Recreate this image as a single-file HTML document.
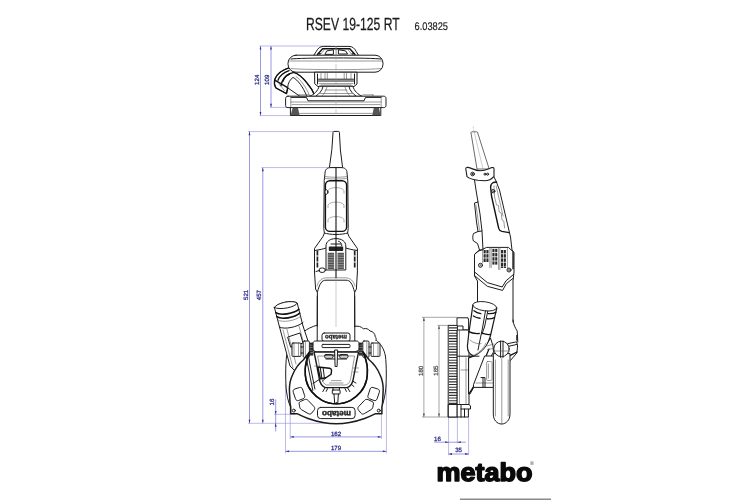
<!DOCTYPE html>
<html lang="en">
<head>
<meta charset="utf-8">
<title>RSEV 19-125 RT 6.03825</title>
<style>
html,body{margin:0;padding:0;background:#fff;}
body{width:750px;height:500px;overflow:hidden;position:relative;font-family:"Liberation Sans",sans-serif;}
svg{position:absolute;left:0;top:0;display:block;will-change:transform;}
svg text{text-rendering:geometricPrecision;}
.o{fill:none;stroke:#1c1c1c;stroke-width:1;stroke-linejoin:round;stroke-linecap:round;}
.ow{fill:#fff;stroke:#1c1c1c;stroke-width:1;stroke-linejoin:round;stroke-linecap:round;}
.k{fill:none;stroke:#111;stroke-width:1.4;stroke-linejoin:round;stroke-linecap:round;}
.t{fill:none;stroke:#555;stroke-width:0.6;stroke-linejoin:round;stroke-linecap:round;}
.tw{fill:#fff;stroke:#555;stroke-width:0.6;stroke-linejoin:round;}
.g{fill:none;stroke:#999;stroke-width:0.5;}
.d{fill:none;stroke:#5555cc;stroke-width:0.6;}
.dl{fill:none;stroke:#8c8ce0;stroke-width:0.6;}
.a{fill:#2a2a9a;stroke:none;}
.dt{stroke:#33338c;stroke-width:0.3;fill:#33338c;font-family:"Liberation Sans",sans-serif;font-size:6.1px;text-anchor:middle;}
.dtg{stroke:#555;stroke-width:0.3;fill:#555;font-family:"Liberation Sans",sans-serif;font-size:6.1px;text-anchor:middle;}
.dg{fill:none;stroke:#6a6a6a;stroke-width:0.6;}
.ag{fill:#444;stroke:none;}
.f{fill:#222;stroke:none;}
.fg{fill:#777;stroke:none;}
</style>
</head>
<body>
<svg width="750" height="500" viewBox="0 0 750 500">
<rect x="0" y="0" width="750" height="500" fill="#ffffff"/>

<!-- TITLE -->
<g id="title">
<text x="306" y="30" font-family="Liberation Sans, sans-serif" font-size="17.6" fill="#1a1a1a" stroke="#1a1a1a" stroke-width="0.250" textLength="93.600" lengthAdjust="spacingAndGlyphs">RSEV 19-125 RT</text>
<text x="414.5" y="30.2" font-family="Liberation Sans, sans-serif" font-size="11" fill="#1a1a1a" stroke="#1a1a1a" stroke-width="0.150" textLength="33.500" lengthAdjust="spacingAndGlyphs">6.03825</text>
</g>

<!-- LOGO -->
<g id="logo">
<text x="436.400" y="480.700" font-family="Liberation Sans, sans-serif" font-weight="bold" font-size="25.600" fill="#0a0a0a" stroke="#0a0a0a" stroke-width="1.500" stroke-linejoin="round" textLength="96" lengthAdjust="spacingAndGlyphs">metabo</text>
<text x="530" y="465" font-family="Liberation Sans, sans-serif" font-size="5.500" fill="#444">®</text>
<rect x="460" y="498.500" width="91" height="1.500" fill="#8a8a8a"/>
</g>

<g id="dims-top">
<path class="d" d="M260.5 46.0 L260.5 115.6"/>
<polygon class="a" points="260.5,46.0 259.6,49.6 261.4,49.6"/>
<polygon class="a" points="260.5,115.6 259.6,112.0 261.4,112.0"/>
<path class="d" d="M271.0 46.0 L271.0 107.4"/>
<polygon class="a" points="271.0,46.0 270.1,49.6 271.9,49.6"/>
<polygon class="a" points="271.0,107.4 270.1,103.8 271.9,103.8"/>
<path class="dl" d="M259.5 46.0 L331.0 46.0"/>
<path class="dl" d="M270.0 107.4 L287.0 107.4"/>
<path class="dl" d="M259.5 115.6 L291.0 115.6"/>
<text class="dt" transform="translate(259.0 79.8) rotate(-90)">124</text>
<text class="dt" transform="translate(269.2 79.8) rotate(-90)">109</text>
</g>

<g id="topview">
<!-- hose elbow -->
<path class="ow" d="M289 67.800 C282 70 276.500 74.500 275 79 C274 82 274.400 85.500 276 88 L286.500 93.600 L288 88 L300 96.400 L315 96.400 C313 91 310.500 87 307 83 C303 78 299 74 294 72.400 Z"/>
<path class="k" d="M289 67.800 C282 70 276.500 74.500 275 79 C274 82 274.400 85.500 276 88 L286.500 93.600 L287.600 87.600 L275.600 80.600"/>
<path class="k" d="M289 70.600 C284 72.400 279.500 76 278 80.200 M281 85.600 C281.400 81 285 76 289.500 74"/>
<path class="k" d="M283 81 C284 77 288 73.600 294 72.400 C299 74 303 78 307 83 C310.500 87 313 91 315 96"/>
<path class="o" d="M287.600 87.600 C288 83 290 79.500 293 77.400 C298 80 303 87 306.500 95.500"/>
<path class="t" d="M296 76.500 C301 80 306 87 309.500 95.500 M279 84 L284.500 90.600"/>
<!-- top cap -->
<path class="ow" d="M313.600 55.500 L316.200 51.600 C318 48.200 320 46.400 323.500 46.400 L349 46.400 C352.500 46.400 354.500 48.200 356.300 51.600 L358.600 55.500 Z"/>
<path class="k" d="M317.400 54.400 L322.600 48.800 L349.800 48.800 L355 54.400"/>
<path class="o" d="M325 54 L326.800 50.900 L333.400 49.800 L333.400 54 Z M338.800 49.800 L345.600 50.900 L347.600 54 L338.800 54 Z"/>
<path class="t" d="M320.500 54.500 L324.500 49.500 M351.800 54.500 L347.800 49.500 M336.100 46.600 L336.100 55"/>
<circle class="o" cx="319.200" cy="53.600" r="0.800"/><circle class="o" cx="353" cy="53.600" r="0.800"/>
<!-- wide body -->
<rect class="ow" x="288" y="55.2" width="95" height="17" rx="8" ry="8"/>
<path class="o" d="M291 59 C300 57.6 372 57.6 381 59"/>
<path class="t" d="M291 68.5 C300 70 372 70 381 68.5 M289.5 61 L382 61"/>
<!-- neck -->
<path class="ow" d="M315 72.2 L357 72.2 L357 84 L354 86.5 L318 86.5 L315 84 Z"/>
<path class="o" d="M317.500 74 L317.500 84 M354.500 74 L354.500 84 M318.500 79.200 L353.500 79.200 M318.500 81 L353.500 81"/>
<path class="t" d="M319 83.600 L353 83.600 M321 85 L351 85"/>
<path class="t" d="M321 72.500 L321 79 M351 72.500 L351 79 M325 72.500 L325 79 M327.300 72.500 L327.300 79 M344.200 72.500 L344.200 79 M346.500 72.500 L346.500 79"/>
<!-- flare -->
<path class="ow" d="M319 86.5 C318 91 314 94.5 309.5 96.4 L362.5 96.4 C358 94.5 354 91 353 86.5 Z"/>
<path class="o" d="M323 86.8 C322 91 319 94 316 96 M349 86.8 C350 91 353 94 356 96"/>
<path class="t" d="M327 87 C326 91 324 94 322 96 M345 87 C346 91 348 94 350 96 M325 90 L347 90 M320 93.5 L352 93.5"/>
<!-- base plate -->
<path class="ow" d="M288 96.200 L383.600 96.200 C385.200 96.200 386 97 386 98.500 L386 105.400 C386 106.800 385.200 107.600 383.600 107.600 L288 107.600 C286.400 107.600 285.600 106.800 285.600 105.400 L285.600 98.500 C285.600 97 286.400 96.200 288 96.200 Z"/>
<path class="o" d="M291 97.400 L306.500 97.400 L308 100.800 L364 100.800 L365.500 97.400 L381 97.400"/>
<path class="t" d="M290.800 97.400 L290.800 107.400 M381.200 97.400 L381.200 107.400 M291 102 L381 102 M292 104.600 L380 104.600 M299 94.800 L309 94.800 M363 94.800 L373 94.800 M299 94.800 L299 96.200 M373 94.800 L373 96.200"/>
<!-- bottom disc -->
<path class="o" d="M290.400 107.600 L290.400 115.500 L380.800 115.500 L380.800 107.600"/>
<path fill="#555" d="M292.600 108 L298 108 L299.600 115.200 L290.600 115.200 Z M373.800 108 L379 108 L380.600 115.200 L372.200 115.200 Z"/>
<path class="t" d="M299.600 113.400 L372.200 113.400"/>
<path class="g" d="M336 46 L336 116" stroke-dasharray="5 1.5 1 1.5"/>
</g>

<g id="dims-front">
<path class="d" d="M249.5 131.6 L249.5 423.3"/>
<polygon class="a" points="249.5,131.6 248.6,135.2 250.4,135.2"/>
<polygon class="a" points="249.5,423.3 248.6,419.7 250.4,419.7"/>
<path class="d" d="M262.8 167.6 L262.8 423.3"/>
<polygon class="a" points="262.8,167.6 261.9,171.2 263.7,171.2"/>
<polygon class="a" points="262.8,423.3 261.9,419.7 263.7,419.7"/>
<path class="dl" d="M248.0 131.6 L333.0 131.6"/>
<path class="dl" d="M261.5 167.6 L329.0 167.6"/>
<path class="dl" d="M248.0 423.3 L327.0 423.3"/>
<path class="dl" d="M274.0 414.3 L295.0 414.3"/>
<text class="dt" transform="translate(247.7 294.9) rotate(-90)">521</text>
<text class="dt" transform="translate(261.2 295.1) rotate(-90)">457</text>
<path class="d" d="M275.7 399.5 L275.7 431.5"/>
<polygon class="a" points="275.7,414.3 274.8,410.9 276.6,410.9"/>
<polygon class="a" points="275.7,423.3 274.8,426.7 276.6,426.7"/>
<text class="dt" transform="translate(274.0 402.0) rotate(-90)">16</text>
<path class="d" d="M290.2 436.9 L381.4 436.9"/>
<polygon class="a" points="290.2,436.9 293.8,436.0 293.8,437.8"/>
<polygon class="a" points="381.4,436.9 377.8,436.0 377.8,437.8"/>
<text class="dt" x="336.0" y="435.8">162</text>
<path class="d" d="M285.5 451.3 L386.4 451.3"/>
<polygon class="a" points="285.5,451.3 289.1,450.4 289.1,452.2"/>
<polygon class="a" points="386.4,451.3 382.8,450.4 382.8,452.2"/>
<text class="dt" x="336.0" y="449.8">179</text>
<path class="dl" d="M290.2 407.0 L290.2 439.0"/>
<path class="dl" d="M381.4 407.0 L381.4 439.0"/>
<path class="dl" d="M285.5 384.0 L285.5 453.5"/>
<path class="dl" d="M386.4 384.0 L386.4 453.5"/>
</g>

<g id="frontview">
<!-- cable sleeve -->
<path class="ow" d="M333 132.4 C333 131.6 333.4 131.4 334 131.4 L338.4 131.4 C339 131.4 339.4 131.6 339.4 132.4 L340.4 150 L342.6 167.6 L329.4 167.6 L331.8 150 Z"/>
<!-- handle -->
<path class="ow" d="M325 173 C325 169 327.5 167.6 331 167.6 L341 167.6 C344.500 167.6 347 169 347 173 L347.8 181 L348.2 226 C348.2 230 347.8 232 347.6 233 L349 236.500 L357.400 248.5 L357.400 272 L356.400 289 L354.600 292.500 L354.800 346 L317.200 346 L317.400 292.500 L315.600 289 L314.500 272 L314.500 248.5 L323 236.500 L324.400 233 C324.200 232 323.800 230 323.800 226 L324.200 181 Z"/>
<path class="t" d="M324.6 176.400 C330 177.600 342 177.600 347.4 176.400 M324.400 178.200 C330 179.400 342 179.400 347.6 178.200"/>
<rect class="k" x="325.400" y="180.800" width="21.200" height="50.600" rx="4.500" ry="4.500"/>
<path class="g" style="stroke:#8a8a8a;stroke-width:0.7" d="M328 193.500 L328 190.500 C329.500 188.200 333 187.600 336 187.600 C339 187.600 342.500 188.200 344 190.500 L344 193.500 M328 208 L328 205 C329.500 202.700 333 202.100 336 202.100 C339 202.100 342.500 202.700 344 205 L344 208 M328 222.500 L328 219.500 C329.500 217.200 333 216.600 336 216.600 C339 216.600 342.500 217.200 344 219.500 L344 222.500"/>
<ellipse class="ow" cx="326.400" cy="192" rx="1.500" ry="2.200"/>
<path class="o" d="M324.400 233 C330 235 342 235 347.6 233"/>
<!-- motor housing details -->
<path class="o" d="M314.500 250.500 C320 249.800 323 249 326 248 M357.400 250.500 C352 249.800 349 249 345.800 248"/>
<path class="ow" d="M326 269.600 L326 246 C326 241.500 330 238.600 335.900 238.600 C341.800 238.600 345.800 241.500 345.800 246 L345.800 269.600 Z"/>
<rect class="f" x="328.800" y="246.600" width="14.400" height="4.400" rx="0.800"/>
<rect fill="#3a3a3a" x="327.800" y="252.800" width="6.300" height="16.200"/>
<rect fill="#3a3a3a" x="337.600" y="252.800" width="6.300" height="16.200"/>
<path d="M327.9 254.20 H334.1 M327.9 255.90 H334.1 M327.9 257.60 H334.1 M327.9 259.30 H334.1 M327.9 261.00 H334.1 M327.9 262.70 H334.1 M327.9 264.40 H334.1 M327.9 266.10 H334.1 M327.9 267.80 H334.1 M337.7 254.20 H343.9 M337.7 255.90 H343.9 M337.7 257.60 H343.9 M337.7 259.30 H343.9 M337.7 261.00 H343.9 M337.7 262.70 H343.9 M337.7 264.40 H343.9 M337.7 266.10 H343.9 M337.7 267.80 H343.9" stroke="#ddd" stroke-width="0.55" fill="none"/>
<path class="o" d="M338.500 241.200 C340.600 241.800 341.800 243.600 341.800 245.800 M331 244 L340.600 244"/>
<path d="M317.400 250.600 L317.400 267.600 M354.700 250.600 L354.700 267.600" stroke="#222" stroke-width="1.700" stroke-dasharray="5 1" fill="none"/>
<ellipse class="ow" cx="322.200" cy="270.200" rx="3.200" ry="2.300"/>
<path class="o" d="M319.500 270.500 L316 271.500"/>
<!-- arches -->
<path class="t" d="M317 286 C318.500 280.500 322 277.800 327 277.800 L345 277.800 C350 277.800 353.500 280.500 355 286"/>
<path class="o" d="M317.400 292.200 C318.500 288 319.500 285 321 283 C322 281 324 280.200 326 280.200 L346 280.200 C348 280.200 350 281 351 283 C352.500 285 353.500 288 354.600 292.200"/>
<!-- centre line -->
<path d="M336 167.600 L336 278" stroke="#111" stroke-width="1.1" fill="none"/>
<path class="g" d="M336 278 L336 346"/>

<!-- GUARD: outer disc -->
<path fill="#fff" stroke="none" d="M303 327 C296 332 289 342 286.600 356 C285.400 364 285.400 384 286.600 392 C287.500 400 290 407 293 412 L379 412 C382 407 384.500 400 385.400 392 C386.600 384 386.600 364 385.400 356 C383 342 376 332 369 327 Z"/>
<path class="o" d="M303 327 C296 332 289 342 286.600 356 C285.400 364 285.400 384 286.600 392 C287.500 400 290 407 293 412 M379 412 C382 407 384.500 400 385.400 392 C386.600 384 386.600 364 385.400 356 C384.200 349 380.500 343.500 376 340"/>
<!-- gear housing bumps -->
<path fill="#fff" stroke="none" d="M354.800 326.400 L364 329 L372.700 332.400 L376 340 L380 347 L354 347 Z"/>
<path class="o" d="M354.800 326.400 C358 325.600 361 326.500 363.500 328.800 C366 328 368.500 329 370 331 C373 331.400 375 333.500 375.300 336.800 C376.200 338 376.400 339 376 340.500"/>
<path fill="#fff" stroke="none" d="M317.200 325 L304 331.500 L300 347 L318 347 Z"/>
<path class="o" d="M317.200 325.200 C312 326.500 307 329 303.600 331.800"/>
<path class="o" d="M317.300 296 L317.200 341 M354.700 296 L354.800 341"/>
<!-- hose connector -->
<path class="ow" d="M274.400 307.500 L279.500 327 L290 366 L296 372 L306 366 L310 347 L303 326 L297.200 303 C292 299.800 279 302.500 274.400 307.500 Z"/>
<path class="ow" d="M274.400 307.500 C276 303 292 299.500 297.200 303 C296 307 280 310.500 274.400 307.500 Z"/>
<path d="M275.800 312.600 C280 316 294 313.500 298.800 309.400 M276.900 316.600 C281 320 295 317.500 299.700 313.200" fill="none" stroke="#111" stroke-width="1.700" stroke-linecap="round"/>
<path class="t" d="M277.800 320 C282 323.200 296 320.500 300.500 316.600"/>
<path class="o" d="M279.500 327 C284 330 298 327 303 322.500"/>
<path class="t" d="M283 330 L293 368 M299 326 L306 352 M287 329.500 L296 364"/>
<path class="o" d="M288 337 L300 333 L303 343 L291 347 Z"/>

<!-- side handle bar -->
<rect class="ow" x="292" y="343" width="9" height="13.400" rx="1"/>
<rect class="ow" x="371" y="343" width="9" height="13.400" rx="1"/>
<path class="t" d="M294 343 L294 356.400 M378 343 L378 356.400 M298.500 343 L298.500 356.400 M373.500 343 L373.500 356.400"/>
<rect class="ow" x="303.200" y="341" width="6.200" height="16.400" rx="1.200"/>
<rect class="ow" x="362.800" y="341" width="6.200" height="16.400" rx="1.200"/>
<path class="t" d="M305.400 341.400 L305.400 357 M366.800 341.400 L366.800 357"/>
<rect fill="#333" x="309.400" y="342.600" width="3.800" height="13"/>
<rect fill="#333" x="359" y="342.600" width="3.800" height="13"/>
<path d="M309.400 345 H313.200 M309.400 347.500 H313.200 M309.400 350 H313.200 M309.400 352.500 H313.200 M359 345 H362.800 M359 347.500 H362.800 M359 350 H362.800 M359 352.500 H362.800" stroke="#bbb" stroke-width="0.5" fill="none"/>
<path class="o" d="M301 347 L303.200 347 M301 353 L303.200 353 M369 347 L371 347 M369 353 L371 353"/>
<!-- "metabo" label on gearbox -->
<rect class="ow" x="322" y="333" width="28" height="8.400" rx="2.200"/>
<text transform="translate(336 335.200) rotate(180)" text-anchor="middle" font-family="Liberation Sans, sans-serif" font-weight="bold" font-size="6.4" fill="#222" stroke="#222" stroke-width="0.3" textLength="22" lengthAdjust="spacingAndGlyphs">metabo</text>
<!-- bracket -->
<path class="ow" d="M313 350 L313 343.500 C313 342 314 341 315.500 341 L356.500 341 C358 341 359 342 359 343.500 L359 350 L355 352 L317 352 Z"/>
<rect class="o" x="322" y="344.400" width="28" height="3.200" rx="1"/>
<path class="o" d="M311 344 L313 344 M311 349 L313 349 M359 344 L361 344 M359 349 L361 349"/>

<!-- horseshoe front piece -->
<path class="ow" style="stroke-width:1.5" d="M303.5 359.8 C298.5 364.0 294.5 370.0 292.5 375.0 C290.5 379.0 289.4 384.0 289.4 390.0 L290.0 402.4 C290.2 405.0 290.4 406.0 290.7 406.5 L290.7 413.7 L297.0 413.7 C300.0 415.2 304.0 417.0 308.0 418.5 C313.0 420.3 318.0 421.6 323.0 422.5 C327.5 423.3 332.0 423.7 336.3 423.7 C340.6 423.7 345.1 423.3 349.6 422.5 C354.6 421.6 359.6 420.3 364.6 418.5 C368.6 417.0 372.6 415.2 375.6 413.7 L381.9 413.7 L381.9 406.5 C382.2 406.0 382.4 405.0 382.6 402.4 L383.2 390.0 C383.2 384.0 382.1 379.0 380.1 375.0 C378.1 370.0 374.1 364.0 369.1 359.8 L363.1 352.0 C365.6 358.0 367.3 364.0 367.4 369.4 C367.5 373.0 367.3 376.5 366.6 379.8 C365.6 384.0 363.6 388.5 360.6 392.0 C357.6 395.5 354.1 398.5 350.6 400.3 C346.6 402.4 342.1 403.8 336.3 403.8 C330.5 403.8 326.0 402.4 322.0 400.3 C318.5 398.5 315.0 395.5 312.0 392.0 C309.0 388.5 307.0 384.0 306.0 379.8 C305.3 376.5 305.1 373.0 305.2 369.4 C305.3 364.0 307.0 358.0 309.5 352.0 Z"/>
<path class="k" style="stroke-width:1.5" d="M309.5 352.0 C307.0 358.0 305.3 364.0 305.2 369.4 C305.1 373.0 305.3 376.5 306.0 379.8 C307.0 384.0 309.0 388.5 312.0 392.0 C315.0 395.5 318.5 398.5 322.0 400.3 C326.0 402.4 330.5 403.8 336.3 403.8 C342.1 403.8 346.6 402.4 350.6 400.3 C354.1 398.5 357.6 395.5 360.6 392.0 C363.6 388.5 365.6 384.0 366.6 379.8 C367.3 376.5 367.5 373.0 367.4 369.4 C367.3 364.0 365.6 358.0 363.1 352.0"/>
<path class="f" d="M334.600 403.800 L336.300 401.800 L338 403.800 Z"/>
<!-- windows -->
<path class="o" d="M293.2 392.0 C292.8 390.5 293.4 389.5 294.8 389.0 L299.5 387.5 C301.0 387.1 302.0 387.7 302.5 389.0 L304.6 395.6 C305.0 397.0 304.5 398.1 303.2 398.7 L298.6 400.5 C297.2 401.0 296.1 400.5 295.6 399.1 Z"/>
<path class="o" d="M379.4 392.0 C379.8 390.5 379.2 389.5 377.8 389.0 L373.1 387.5 C371.6 387.1 370.6 387.7 370.1 389.0 L368.0 395.6 C367.6 397.0 368.1 398.1 369.4 398.7 L374.0 400.5 C375.4 401.0 376.5 400.5 377.0 399.1 Z"/>
<path class="o" d="M299.3 404.8 C298.6 403.3 299.1 402.2 300.5 401.5 L304.6 399.6 C306.0 399.0 307.1 399.3 308.1 400.4 L314.0 406.6 C315.0 407.8 315.0 409.0 314.0 410.2 L311.8 413.0 C310.8 414.2 309.6 414.4 308.2 413.6 L301.4 409.6 C300.3 408.9 299.8 407.8 299.6 406.5 Z"/>
<path class="o" d="M373.3 404.8 C374.0 403.3 373.5 402.2 372.1 401.5 L368.0 399.6 C366.6 399.0 365.5 399.3 364.5 400.4 L358.6 406.6 C357.6 407.8 357.6 409.0 358.6 410.2 L360.8 413.0 C361.8 414.2 363.0 414.4 364.4 413.6 L371.2 409.6 C372.3 408.9 372.8 407.8 373.0 406.5 Z"/>
<rect class="ow" x="317.500" y="407.400" width="37.600" height="11.200" rx="3.200"/>
<text transform="translate(336.500 410.600) rotate(180)" text-anchor="middle" font-family="Liberation Sans, sans-serif" font-weight="bold" font-size="8" fill="#222" stroke="#222" stroke-width="0.4" textLength="29" lengthAdjust="spacingAndGlyphs">metabo</text>
<!-- corner bolts -->
<circle class="ow" cx="293.800" cy="410.600" r="1.500"/>
<circle class="ow" cx="378.800" cy="410.600" r="1.500"/>

<!-- centre gearbox underside -->
<path class="ow" style="stroke-width:1.4" d="M314 352 L358.600 352 L356.500 362 L353.400 378.400 C352.800 383 350.800 386.200 347.200 387.600 L325.400 387.600 C321.800 386.200 319.800 383 319.200 378.400 L316.100 362 Z"/>
<path class="t" d="M318 356 L354.600 356 L350.800 378 C350.300 381.500 348.800 384 346 385 L326.600 385 C323.800 384 322.300 381.500 321.800 378 Z"/>
<path class="o" d="M325 355 L347.600 355 M326 359 L346.600 359"/>
<rect class="o" x="324.600" y="354.600" width="8.400" height="3.600" rx="1.600"/>
<rect class="o" x="339.600" y="354.600" width="8.400" height="3.600" rx="1.600"/>
<path class="ow" d="M335 350 L337.600 350 L337.100 366.500 L335.500 366.500 Z"/>
<path class="k" d="M317.800 367 L329.500 368.200 C331 368.400 331.700 369.500 331.500 371 L331.100 374.200 L326 377.800 L320.400 378.800 Z"/>
<path class="o" d="M320.400 368 L321.800 378 M323.200 368.400 L324.400 377.800"/>
<path class="o" d="M320.400 378.800 L313 383.500 M326 377.800 L322.500 381"/>
<path class="t" d="M329.500 383 L343 383 M331.500 380.600 L341 380.600"/>
<rect class="o" x="332.300" y="390" width="7.800" height="4" rx="0.600"/>
<path class="o" d="M334 394 L334.600 402.800 M338.400 394 L337.800 402.800 M333 390 L333 388 M339.400 390 L339.400 388"/>
<path class="o" d="M324.800 388.200 L322.800 391.600 M327.600 388.600 L326.200 391.400 M347.800 388.200 L349.800 391.600 M345 388.600 L346.400 391.400 M352.600 381 L356 383 M351.400 384.400 L354 386.600"/>
<path class="t" d="M353.600 368 L358.600 368 M353.200 372 L358 372 M314.600 366 L318.600 366"/>
<path class="o" d="M306.200 357 L306.900 361 L312.800 390.400 M308.600 357 L309.300 361 L314.900 389"/>
</g>

<g id="dims-side">
<path class="dg" d="M423.9 317.3 L423.9 417.0"/>
<polygon class="ag" points="423.9,317.3 423.0,320.9 424.8,320.9"/>
<polygon class="ag" points="423.9,417.0 423.0,413.4 424.8,413.4"/>
<path class="dg" d="M439.0 325.4 L439.0 417.0"/>
<polygon class="ag" points="439.0,325.4 438.1,329.0 439.9,329.0"/>
<polygon class="ag" points="439.0,417.0 438.1,413.4 439.9,413.4"/>
<path class="dg" d="M422.0 317.3 L457.0 317.3"/>
<path class="dg" d="M437.5 325.4 L449.0 325.4"/>
<path class="dg" d="M422.0 417.0 L450.0 417.0"/>
<text class="dtg" transform="translate(422.6 370.9) rotate(-90)">180</text>
<text class="dtg" transform="translate(437.9 370.6) rotate(-90)">165</text>
<path class="dl" d="M448.6 417.0 L448.6 455.2"/>
<path class="dl" d="M457.4 417.0 L457.4 443.2"/>
<path class="dl" d="M468.6 417.0 L468.6 455.2"/>
<path class="d" d="M434.2 442.2 L465.8 442.2"/>
<polygon class="a" points="448.6,442.2 445.2,441.3 445.2,443.1"/>
<polygon class="a" points="457.4,442.2 460.8,441.3 460.8,443.1"/>
<text class="dt" x="437.4" y="440.8">16</text>
<path class="d" d="M448.6 454.0 L468.6 454.0"/>
<polygon class="a" points="448.6,454.0 452.0,453.1 452.0,454.9"/>
<polygon class="a" points="468.6,454.0 465.2,453.1 465.2,454.9"/>
<text class="dt" x="458.6" y="452.0">35</text>
</g>

<g id="sideview">
<!-- cable sleeve -->
<path class="g" d="M473.200 126.500 L474 132" stroke-dasharray="2 1"/>
<path class="ow" style="stroke:#444;stroke-width:0.8" d="M471 132.600 C471 132 471.500 131.800 472 131.800 L476.600 131.800 C477.200 131.800 477.500 132 477.600 132.600 L489.200 169 L477.400 169 Z"/>
<path class="g" d="M474.200 132 L483 169"/>
<!-- handle body -->
<path fill="#fff" stroke="none" d="M474.500 180 L476 190 L478 202 L474.500 203 L476.500 222 L478 231.500 L473.500 233.500 C472.500 236 472.500 239 473.500 241 L477.500 243.500 L479.500 250 L474.500 254.500 L474.500 276 L477.500 281 L477.500 309 L513 320 L513 281 L514 272 L514 252.500 L512 250 L510.500 237 L499.500 190 L496 180 Z"/>
<path class="o" d="M477.500 309 L477.500 281 L474.500 276 L474.500 254.500 L479.500 250 L477.500 243.500 L473.500 241 C472.500 239 472.500 236 473.500 233.500 L478 231.500 L476.500 222 L474.500 203 L478 202 L476 190 L474.500 180 M494 177 L496 181 L499.500 190 L510.500 237 L512 250 L514 252.500 L514 272 L513 281 L513 322"/>
<path class="o" d="M478 202 L480 214 L482 231 L478 231.500 M482 231 L483 250 L479.500 250"/>
<path class="t" d="M476 205 L479.500 230"/>
<!-- right panel -->
<path class="k" d="M496.600 182 L493.300 182.500 C491.500 183.500 490.600 185 490.600 187 L491.500 196 L498.700 228.400 C499.200 230.200 500.200 231 502 231.400 L509 232.600"/>
<path class="t" d="M494 186 L494.600 197 L496.500 205 L498.400 205.500 L499.200 212 L501.200 213 L502 220 L503.800 221 L504.600 228"/>
<path class="t" d="M496.200 186 L503 216"/>
<circle class="ow" cx="493.200" cy="191.200" r="1.700"/><circle class="f" cx="493.200" cy="191.200" r="0.800"/>
<!-- clamp -->
<path class="ow" style="stroke-width:1.1" d="M465.800 169 C465.800 167.600 466.600 167.200 468 167.400 C472 168.200 475 170.600 480 170.800 C485 170.600 488.500 168.800 492 167.600 C493.400 167.300 494 167.800 494 169.200 L494 176.400 C491.500 179.400 488 180.800 484.500 180.800 L478 180.200 C473 179.600 469 178.300 467 176.600 Z"/>
<circle class="ow" cx="472.600" cy="174" r="1.800"/><circle class="f" cx="472.600" cy="174" r="0.900"/>
<circle class="o" cx="485" cy="174.200" r="1"/><circle class="o" cx="487.600" cy="174.200" r="1"/>
<!-- motor housing -->
<path class="o" d="M474.800 254 L477.400 251.600 L486.700 247.400 L508.400 247.400 L512.700 251.400"/>
<path class="o" d="M474.600 272 L487.300 282.600 L502.200 287 L506 280.800 L513.600 274.400"/>
<path class="o" d="M474.600 275.600 L480 280.200 L487.300 286.300 L502.600 290.400 L506.400 283.600 L513.200 278.200"/>
<rect class="f" x="512.300" y="251.600" width="1.500" height="17.600"/>
<g fill="#2a2a2a">
<rect x="483.6" y="250.0" width="2.1" height="3.4"/>
<rect x="486.4" y="250.0" width="2.1" height="3.4"/>
<rect x="483.6" y="254.2" width="2.1" height="3.4"/>
<rect x="486.4" y="254.2" width="2.1" height="3.4"/>
<rect x="483.6" y="258.4" width="2.1" height="3.6"/>
<rect x="486.4" y="258.4" width="2.1" height="3.6"/>
<rect x="492.4" y="248.8" width="2.1" height="3.4"/>
<rect x="495.2" y="248.8" width="2.1" height="3.4"/>
<rect x="492.4" y="253.0" width="2.1" height="3.4"/>
<rect x="495.2" y="253.0" width="2.1" height="3.4"/>
<rect x="492.4" y="257.2" width="2.1" height="3.4"/>
<rect x="495.2" y="257.2" width="2.1" height="3.4"/>
<rect x="492.4" y="261.4" width="2.1" height="3.2"/>
<rect x="495.2" y="261.4" width="2.1" height="3.2"/>
<rect x="501.0" y="250.0" width="2.1" height="3.4"/>
<rect x="503.8" y="250.0" width="2.1" height="3.4"/>
<rect x="501.0" y="254.2" width="2.1" height="3.4"/>
<rect x="503.8" y="254.2" width="2.1" height="3.4"/>
<rect x="501.0" y="258.4" width="2.1" height="3.4"/>
<rect x="503.8" y="258.4" width="2.1" height="3.4"/>
<rect x="501.0" y="262.6" width="2.1" height="3.4"/>
<rect x="503.8" y="262.6" width="2.1" height="3.4"/>
<rect x="501.0" y="266.4" width="2.1" height="1.6"/>
<rect x="503.8" y="266.4" width="2.1" height="1.6"/>
</g>
<path class="t" d="M482.600 248.500 L482.600 263 M489.800 247.600 L489.800 267.500 M491.200 247.600 L491.200 267.500 M498.600 247.600 L498.600 269.500 M499.900 247.600 L499.900 269.500 M507.400 248 L507.400 268.500"/>
<circle class="ow" cx="480.500" cy="265.300" r="2"/><circle class="fg" cx="480.500" cy="265.300" r="1.100"/>
<circle class="ow" cx="509" cy="270" r="2"/><circle class="fg" cx="509" cy="270" r="1.100"/>
<!-- gear neck right side down to bracket -->
<path class="o" d="M513 320 C513.300 325 515.500 328 517.200 331 L517.800 342"/>


<!-- guard: brush ring -->
<rect class="ow" x="448.600" y="325.400" width="8.800" height="91.600"/>
<path d="M449 327.80 H457.2 M449 330.50 H457.2 M449 333.20 H457.2 M449 335.90 H457.2 M449 338.60 H457.2 M449 341.30 H457.2 M449 344.00 H457.2 M449 346.70 H457.2 M449 349.40 H457.2 M449 352.10 H457.2 M449 354.80 H457.2 M449 357.50 H457.2 M449 360.20 H457.2 M449 362.90 H457.2 M449 365.60 H457.2 M449 368.30 H457.2 M449 371.00 H457.2 M449 373.70 H457.2 M449 376.40 H457.2 M449 379.10 H457.2 M449 381.80 H457.2 M449 384.50 H457.2 M449 387.20 H457.2 M449 389.90 H457.2 M449 392.60 H457.2 M449 395.30 H457.2 M449 398.00 H457.2 M449 400.70 H457.2 M449 403.40 H457.2" stroke="#333" stroke-width="1.15" fill="none"/>
<rect class="ow" x="448.600" y="404.500" width="8.800" height="12.500"/>
<!-- guard body -->
<path class="ow" d="M457.400 317.800 L468 317.800 L468.600 320 L468.600 330 L463 330 L463 326 L457.400 326 Z"/>
<path class="ow" d="M457.400 330 L469 330 L469 404.500 L470.500 406 L470.500 409 L468.400 409 L468.400 417 L457.400 417 Z"/>
<path class="o" d="M457.400 404.500 L469 404.500 M461 404.500 L461 417 M464.500 409 L464.500 417 M461 409 L468.400 409"/>
<path class="t" d="M459.500 330 L459.500 404 M466 358 L466 404 M461 370 L469 370" />
<!-- hose elbow to guard -->
<path class="ow" style="stroke-width:1.2" d="M472.900 304.800 L468.700 334.200 L467.400 346 C467.400 351 469 354 473 355.500 L469 358 L469 362 C477 359 483 354 486.500 347 L490.400 336 L496.700 308.300 Z"/>
<ellipse class="ow" style="stroke-width:0.9" cx="484.800" cy="306.300" rx="12" ry="4.500" transform="rotate(8 484.800 306.500)"/>
<path class="k" d="M474 310.800 C476 312.400 478.500 313.300 480.800 313.600 M473.400 316 C475.500 317.400 477.800 318 480 318.200 M488.300 313.600 C491 313.800 494 313.300 495.800 312.300 M487.200 318.800 C489.800 319 492.500 318.600 494.400 317.600"/>
<rect class="f" x="516.200" y="335" width="1.400" height="5.600"/>
<path class="o" d="M485.500 310.800 L482.500 328 L478 350 M487.800 311 L484.500 327 L482 334"/>
<path class="k" d="M468.700 331.700 C471.500 333.200 475.500 333.800 479.200 333.500 M482 333.200 C485 334.400 488 334.800 490.400 334.500"/>
<path class="t" d="M470 340 C473 343 478 344 481 343.600 M473 355.500 C478 353.500 483 349.500 486 343"/>
<!-- conical shroud & gearbox -->
<path class="ow" d="M469 358 C476 356 482 352 486 346 L490.500 338 L493 346 L493.500 352 L470 394 L469 394 Z"/>
<path class="k" style="stroke-width:1.2" d="M489 349 C484.500 359.500 481.500 367.500 478.500 375.500 C475.500 383.500 472.500 389 469.200 393.400"/>
<path class="o" d="M457.600 356.200 L479 356.200"/>
<path class="ow" d="M485 356 L493.500 356 L493.500 387.400 L473.500 387.400 L473.500 385 Z"/>
<rect class="t" x="486.600" y="361.500" width="5.400" height="19" rx="1.200"/>
<path class="t" d="M488.400 364 L488.400 378 M476 383 L493.500 383"/>
<path class="o" d="M481 377.600 L485 377.600 L485 387.400 M483 377.600 L483 387.400"/>
<!-- bracket at right of ball -->
<path class="ow" d="M508 343.600 L516.600 341.800 L517.600 346 L516.800 353 L510.400 360.500 L508 360 Z"/>
<path class="k" d="M510.400 355.400 L517 352"/>
<path class="o" d="M509 346.200 L517 344.400"/>
<path class="t" d="M487 346 L494 344 M487.500 349.500 L493.500 348.500"/>
<!-- side handle -->
<path class="ow" d="M493.300 354 L493.300 414 C493.300 420 497 424 501.600 424 C506.200 424 510 420 510 414 L510 354 Z"/>
<path class="t" d="M495.400 360 L495.400 416 M508.200 360 L508.200 416 M501.800 358 L501.800 424"/>
<circle class="ow" cx="501.500" cy="348.900" r="7.700"/>
<path class="o" d="M500.600 341 L500.600 357.400 M503 341 L503 357.400"/>
<path class="t" d="M493.600 351 L509.800 351"/>
</g>

</svg>
</body>
</html>
